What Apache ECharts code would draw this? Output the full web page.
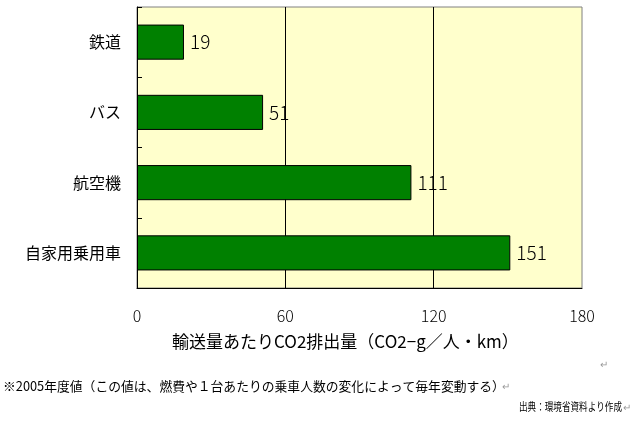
<!DOCTYPE html>
<html>
<head>
<meta charset="utf-8">
<script src="https://cdn.jsdelivr.net/npm/echarts@6/dist/echarts.min.js"></script>
<style>
html,body{margin:0;padding:0;background:#fff;}
#c{width:634px;height:424px;}
</style>
</head>
<body>
<div id="c"></div>
<script>
const categories = ['鉄道', 'バス', '航空機', '自家用乗用車'];
const values = [19, 51, 111, 151];
const xTicks = [0, 60, 120, 180];
const axisTitle = '輸送量あたりCO2排出量（CO2−g／人・km）';
const footnote = '※2005年度値（この値は、燃費や１台あたりの乗車人数の変化によって毎年変動する）';
const sourceNote = '出典：環境省資料より作成';

const FONT = '"Noto Sans CJK JP", "Noto Sans", sans-serif';
const chart = echarts.init(document.getElementById('c'), null, {renderer: 'canvas'});
chart.setOption({
  animation: false,
  backgroundColor: '#ffffff',
  textStyle: {fontFamily: FONT},
  grid: {
    left: 137, right: 52, top: 7, bottom: 136,
    show: true, backgroundColor: '#FFFFCC', borderColor: '#808080', borderWidth: 1
  },
  xAxis: {
    type: 'value',
    min: xTicks[0], max: xTicks[xTicks.length - 1], interval: 60,
    axisLine: {show: true, lineStyle: {color: '#000', width: 1}},
    axisTick: {show: false},
    axisLabel: {color: '#000', fontSize: 16, margin: 20, fontFamily: FONT, fontWeight: 300},
    splitLine: {show: true, showMinLine: false, showMaxLine: false, lineStyle: {color: '#000', width: 1}}
  },
  yAxis: {
    type: 'category',
    data: categories,
    inverse: true,
    axisLine: {show: true, lineStyle: {color: '#000', width: 1}},
    axisTick: {show: true, inside: true, length: 5, lineStyle: {color: '#000'}},
    axisLabel: {color: '#000', fontSize: 16, margin: 16, fontFamily: FONT},
    splitLine: {show: false}
  },
  series: [{
    type: 'bar',
    data: values,
    barWidth: '50%',
    itemStyle: {color: '#008000', borderColor: '#000', borderWidth: 1},
    label: {
      show: true, position: 'right', distance: 6,
      color: '#000', fontSize: 19, fontFamily: FONT, fontWeight: 300
    }
  }],
  graphic: [
    {type: 'text', left: 172, top: 333, style: {text: axisTitle, font: '17px ' + FONT, fill: '#000'}},
    {type: 'text', left: 3, top: 380, style: {text: footnote, font: '12.8px ' + FONT, fill: '#000'}},
    {type: 'text', left: 502, top: 381, style: {text: '↵', font: '10px ' + FONT, fill: '#999'}},
    {type: 'text', left: 600, top: 359, style: {text: '↵', font: '10px ' + FONT, fill: '#999'}},
    {type: 'text', x: 519, y: 401, scaleX: 0.78, style: {text: sourceNote, font: '11px ' + FONT, fill: '#000'}},
    {type: 'text', left: 623, top: 402, style: {text: '↵', font: '10px ' + FONT, fill: '#999'}}
  ]
});
</script>
</body>
</html>
